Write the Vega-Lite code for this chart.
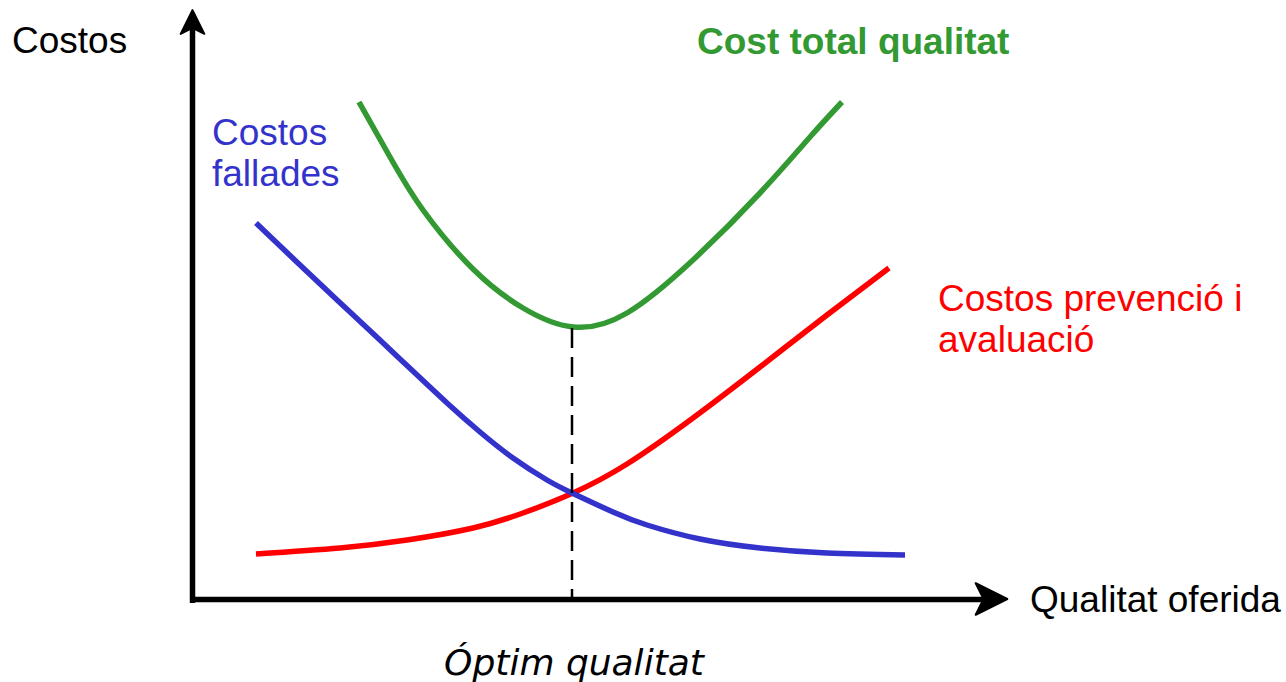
{
  "$schema": "https://vega.github.io/schema/vega-lite/v6.json",
  "width": 1286,
  "height": 682,
  "padding": 0,
  "autosize": {"type": "fit", "contains": "padding"},
  "background": "white",
  "config": {"view": {"stroke": null}},
  "datasets": {
    "curves": [
      {"series": "prevencio", "x": 64, "y": 46},
      {"series": "prevencio", "x": 148, "y": 52},
      {"series": "prevencio", "x": 215, "y": 60},
      {"series": "prevencio", "x": 281, "y": 72},
      {"series": "prevencio", "x": 331, "y": 87},
      {"series": "prevencio", "x": 381, "y": 107},
      {"series": "prevencio", "x": 435, "y": 136},
      {"series": "prevencio", "x": 501, "y": 182},
      {"series": "prevencio", "x": 568, "y": 233},
      {"series": "prevencio", "x": 635, "y": 285},
      {"series": "prevencio", "x": 697, "y": 332},
      {"series": "fallades", "x": 64, "y": 377},
      {"series": "fallades", "x": 108, "y": 335},
      {"series": "fallades", "x": 158, "y": 288},
      {"series": "fallades", "x": 208, "y": 241},
      {"series": "fallades", "x": 255, "y": 197},
      {"series": "fallades", "x": 288, "y": 168},
      {"series": "fallades", "x": 321, "y": 142},
      {"series": "fallades", "x": 355, "y": 120},
      {"series": "fallades", "x": 380, "y": 107},
      {"series": "fallades", "x": 421, "y": 88},
      {"series": "fallades", "x": 455, "y": 75},
      {"series": "fallades", "x": 508, "y": 61},
      {"series": "fallades", "x": 568, "y": 52},
      {"series": "fallades", "x": 635, "y": 47},
      {"series": "fallades", "x": 713, "y": 45},
      {"series": "total", "x": 167, "y": 498},
      {"series": "total", "x": 198, "y": 443},
      {"series": "total", "x": 231, "y": 390},
      {"series": "total", "x": 281, "y": 331},
      {"series": "total", "x": 331, "y": 292},
      {"series": "total", "x": 381, "y": 273},
      {"series": "total", "x": 435, "y": 287},
      {"series": "total", "x": 501, "y": 340},
      {"series": "total", "x": 568, "y": 407},
      {"series": "total", "x": 618, "y": 463},
      {"series": "total", "x": 650, "y": 498}
    ],
    "optim": [
      {"x": 380, "y": 0},
      {"x": 380, "y": 272}
    ],
    "axes": [
      {"axis": "y", "x": 0.5, "y": -3},
      {"axis": "y", "x": 0.5, "y": 575},
      {"axis": "x", "x": -2, "y": 0.5},
      {"axis": "x", "x": 800, "y": 0.5}
    ],
    "arrowUp": [{"x": 0.5, "y": 578}],
    "arrowRight": [{"x": 799.5, "y": 1}],
    "labelsBlack": [
      {"x": -180, "y": 547, "label": "Costos"},
      {"x": 838, "y": -12, "label": "Qualitat oferida"}
    ],
    "labelGreen": [{"x": 505, "y": 546, "label": "Cost total qualitat"}],
    "labelsBlue": [
      {"x": 20, "y": 455, "label": "Costos"},
      {"x": 20, "y": 414, "label": "fallades"}
    ],
    "labelsRed": [
      {"x": 746, "y": 289, "label": "Costos prevenció i"},
      {"x": 746, "y": 248, "label": "avaluació"}
    ],
    "labelOptim": [{"x": 382, "y": -75, "label": "Óptim qualitat"}]
  },
  "encoding": {
    "x": {"field": "x", "type": "quantitative", "scale": {"domain": [-192, 1094], "nice": false, "zero": false}, "axis": null},
    "y": {"field": "y", "type": "quantitative", "scale": {"domain": [-82, 600], "nice": false, "zero": false}, "axis": null}
  },
  "layer": [
    {
      "data": {"name": "axes"},
      "mark": {"type": "line", "color": "black", "strokeWidth": 5.5, "strokeCap": "butt"},
      "encoding": {"detail": {"field": "axis", "type": "nominal"}}
    },
    {
      "data": {"name": "arrowUp"},
      "mark": {"type": "point", "shape": "M0,-1L1,1L0,0.5L-1,1Z", "filled": true, "color": "black", "opacity": 1, "size": 560, "stroke": "black", "strokeWidth": 2, "strokeJoin": "round"}
    },
    {
      "data": {"name": "arrowRight"},
      "mark": {"type": "point", "shape": "M0,-1L1,1L0,0.5L-1,1Z", "filled": true, "color": "black", "opacity": 1, "size": 1000, "angle": 90, "stroke": "black", "strokeWidth": 2, "strokeJoin": "round"}
    },
    {
      "data": {"name": "curves"},
      "mark": {"type": "line", "strokeWidth": 5.5, "interpolate": "natural", "strokeCap": "butt"},
      "encoding": {
        "color": {"field": "series", "type": "nominal", "scale": {"domain": ["prevencio", "fallades", "total"], "range": ["#FF0000", "#3333CC", "#339933"]}, "legend": null},
        "order": {"field": "x", "type": "quantitative"}
      }
    },
    {
      "data": {"name": "optim"},
      "mark": {"type": "line", "color": "black", "strokeWidth": 2.5, "strokeDash": [20, 9]},
      "encoding": {"order": {"field": "y", "type": "quantitative", "sort": "descending"}}
    },
    {
      "data": {"name": "labelsBlack"},
      "mark": {"type": "text", "align": "left", "baseline": "alphabetic", "font": "Liberation Sans", "fontSize": 37, "color": "black"},
      "encoding": {"text": {"field": "label"}}
    },
    {
      "data": {"name": "labelGreen"},
      "mark": {"type": "text", "align": "left", "baseline": "alphabetic", "font": "Liberation Sans", "fontSize": 37, "fontWeight": "bold", "color": "#339933"},
      "encoding": {"text": {"field": "label"}}
    },
    {
      "data": {"name": "labelsBlue"},
      "mark": {"type": "text", "align": "left", "baseline": "alphabetic", "font": "Liberation Sans", "fontSize": 37, "color": "#3333CC"},
      "encoding": {"text": {"field": "label"}}
    },
    {
      "data": {"name": "labelsRed"},
      "mark": {"type": "text", "align": "left", "baseline": "alphabetic", "font": "Liberation Sans", "fontSize": 37, "color": "#FF0000"},
      "encoding": {"text": {"field": "label"}}
    },
    {
      "data": {"name": "labelOptim"},
      "mark": {"type": "text", "align": "center", "baseline": "alphabetic", "font": "DejaVu Sans", "fontSize": 36, "fontStyle": "italic", "color": "black"},
      "encoding": {"text": {"field": "label"}}
    }
  ]
}
